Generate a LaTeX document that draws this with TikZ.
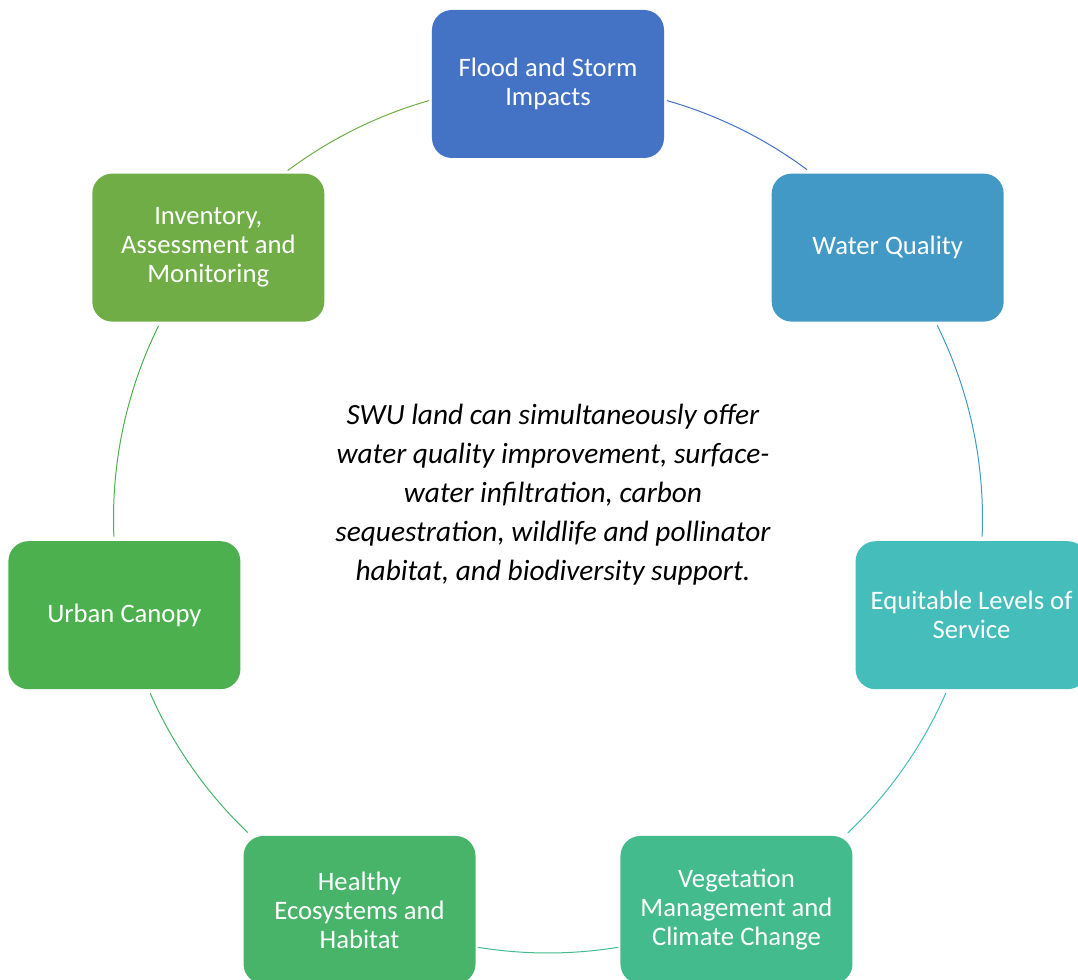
\documentclass[tikz,border=0pt]{standalone}
\usepackage{fontspec}
\setmainfont{Carlito}
\usetikzlibrary{positioning}
\definecolor{cFlood}{HTML}{4472C4}
\definecolor{cWater}{HTML}{4399C5}
\definecolor{cEquit}{HTML}{45BDBA}
\definecolor{cVeg}{HTML}{43BB8D}
\definecolor{cHealthy}{HTML}{48B46A}
\definecolor{cUrban}{HTML}{4CB04E}
\definecolor{cInvent}{HTML}{70AD47}
\tikzset{
  topic/.style={rectangle, rounded corners=15pt, fill=#1, text=white,
    minimum width=174pt, minimum height=111pt, inner sep=0pt,
    align=center, font=\fontsize{20}{21.75}\selectfont},
  link/.style={draw=#1, line width=0.75pt},
}
\def\R{434.5}

\begin{document}
\begin{tikzpicture}[x=0.75pt, y=0.75pt]
  \useasboundingbox (-548,-461.5) rectangle (530,518.5);

  \node[topic=cFlood]   (flood)   at (90:\R)      {Flood and Storm\\Impacts};
  \node[topic=cWater]   (water)   at (38.57:\R)   {Water Quality};
  \node[topic=cEquit]   (equit)   at (-12.86:\R)  {Equitable Levels of\\Service};
  \node[topic=cVeg]     (veg)     at (-64.29:\R)  {Vegetation\\Management and\\Climate Change};
  \node[topic=cHealthy] (healthy) at (-115.71:\R) {Healthy\\Ecosystems and\\Habitat};
  \node[topic=cUrban]   (urban)   at (-167.14:\R) {Urban Canopy};
  \node[topic=cInvent]  (invent)  at (141.43:\R)  {Inventory,\\Assessment and\\Monitoring};

  \node[align=center, font=\fontsize{22}{29.25}\selectfont\itshape] (note) at (5,24)
    {SWU land can simultaneously offer\\water quality improvement, surface-\\water infiltration, carbon\\sequestration, wildlife and pollinator\\habitat, and biodiversity support.};

  % arcs round the ring
  \foreach \a/\b/\c [count=\i] in {74.1/53.4/cFlood, 26.4/-2.4/cWater,
      -23.7/-46.4/cEquit, -80.7/-99.3/cVeg, -133.7/-156.3/cHealthy,
      182.4/153.7/cUrban, 126.8/105.9/cInvent}
  {
    \coordinate (arc\i) at (\a:\R);
    \draw[link=\c] (arc\i) arc[start angle=\a, end angle=\b, radius=\R];
  }
\end{tikzpicture}
\end{document}
